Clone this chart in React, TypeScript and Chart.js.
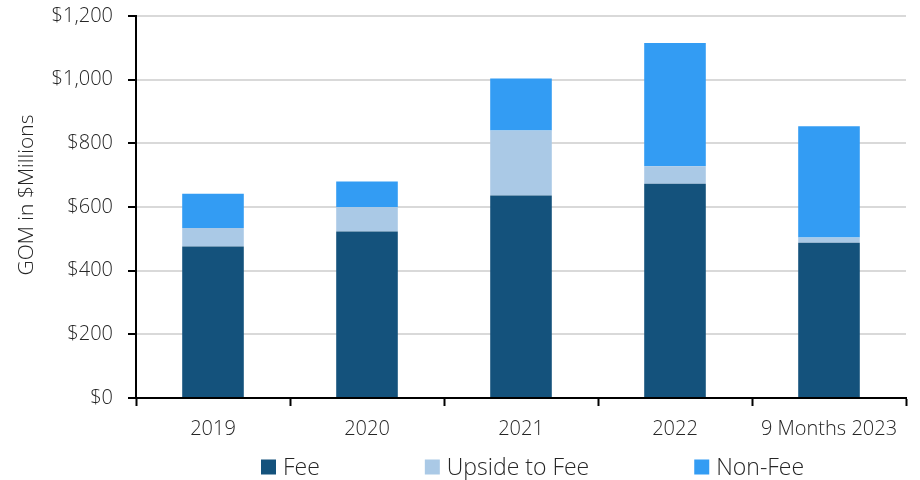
import React, { useEffect, useRef } from "react";
import { Chart, registerables } from "chart.js";

Chart.register(...registerables);

// Gross operating margin by year, split into fee components
const categories = ["2019", "2020", "2021", "2022", "9 Months 2023"];
const feeValues = [476, 523, 636, 673, 488];
const upsideToFeeValues = [58, 76, 204, 55, 16];
const nonFeeValues = [108, 81, 164, 387, 350];
const seriesLabels = ["Fee", "Upside to Fee", "Non-Fee"];
const yAxisTitle = "GOM in $Millions";
const yMin = 0;
const yMax = 1200;
const yStep = 200;

const seriesColors = ["#14527c", "#aac9e6", "#339cf3"];
const textColor = "#262626";
const fontFamily = '"Open Sans", "DejaVu Sans", sans-serif';

const formatDollars = (v: number) => "$" + v.toLocaleString("en-US");

// Horizontal legend row and rotated axis title drawn on the canvas
const annotationsPlugin = {
  id: "annotations",
  afterDraw(chart: any) {
    const ctx: CanvasRenderingContext2D = chart.ctx;
    ctx.save();
    // y-axis title
    ctx.font = `300 21px ${fontFamily}`;
    ctx.fillStyle = textColor;
    ctx.textAlign = "center";
    ctx.textBaseline = "middle";
    ctx.translate(27, 195);
    ctx.rotate(-Math.PI / 2);
    ctx.fillText(yAxisTitle, 0, 0);
    ctx.restore();

    ctx.save();
    ctx.font = `300 23px ${fontFamily}`;
    ctx.textBaseline = "middle";
    ctx.textAlign = "left";
    const y = 467;
    let x = 261;
    chart.data.datasets.forEach((ds: any) => {
      ctx.fillStyle = ds.backgroundColor;
      ctx.fillRect(x, y - 7.5, 15, 15);
      ctx.fillStyle = textColor;
      ctx.fillText(ds.label, x + 22, y + 1);
      x += 22 + ctx.measureText(ds.label).width + 105;
    });
    ctx.restore();
  },
};

export default function App() {
  const canvasRef = useRef<HTMLCanvasElement | null>(null);

  useEffect(() => {
    if (!canvasRef.current) return;
    const seriesValues = [feeValues, upsideToFeeValues, nonFeeValues];
    const chart = new Chart(canvasRef.current, {
      type: "bar",
      data: {
        labels: categories,
        datasets: seriesLabels.map((label, i) => ({
          label,
          data: seriesValues[i],
          backgroundColor: seriesColors[i],
          borderWidth: 0,
          barPercentage: 0.8,
          categoryPercentage: 0.5,
        })),
      },
      options: {
        animation: false,
        responsive: false,
        maintainAspectRatio: false,
        layout: { padding: { left: 0, top: 16, right: 14, bottom: 0 } },
        plugins: {
          legend: { display: false },
          tooltip: { enabled: false },
        },
        scales: {
          x: {
            stacked: true,
            border: { color: "#000000", width: 2 },
            grid: {
              offset: true,
              drawOnChartArea: false,
              drawTicks: true,
              tickLength: 8,
              tickColor: "#000000",
              tickWidth: 2,
            },
            ticks: {
              color: textColor,
              padding: 11,
              font: { family: fontFamily, size: 20, weight: "300" as any },
              maxRotation: 0,
              autoSkip: false,
            },
            afterFit(scale: any) {
              scale.height = 82;
            },
          },
          y: {
            stacked: true,
            min: yMin,
            max: yMax,
            border: { color: "#000000", width: 2 },
            grid: {
              color: "#d9d9d9",
              lineWidth: 2,
              drawTicks: true,
              tickLength: 8,
              tickColor: "#000000",
              tickWidth: 2,
            },
            ticks: {
              stepSize: yStep,
              color: textColor,
              padding: 15,
              font: { family: fontFamily, size: 20, weight: "300" as any },
              callback: (v: any) => formatDollars(Number(v)),
            },
            afterFit(scale: any) {
              scale.width = 136;
              scale.paddingTop = 0;
              scale.paddingBottom = 0;
            },
          },
        },
      },
      plugins: [annotationsPlugin],
    });
    return () => chart.destroy();
  }, []);

  return (
    <div style={{ position: "absolute", left: 0, top: 0, width: 920, height: 480, background: "#ffffff" }}>
      <canvas ref={canvasRef} width={920} height={480} style={{ display: "block" }} />
    </div>
  );
}
